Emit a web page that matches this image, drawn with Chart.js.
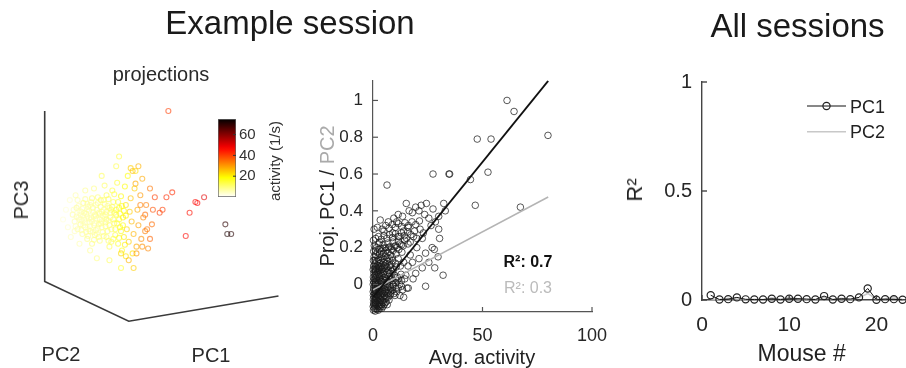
<!DOCTYPE html>
<html><head><meta charset="utf-8">
<script src="https://cdn.jsdelivr.net/npm/chart.js@4.4.1/dist/chart.umd.min.js"></script>
<style>
html,body{margin:0;padding:0;width:906px;height:368px;overflow:hidden;background:#fff;}
canvas{position:absolute;}
.t{position:absolute;white-space:nowrap;line-height:1;font-family:"Liberation Sans",Arial,Helvetica,sans-serif;color:#1a1a1a;transform:translate(-50%,-50%);}
.r{transform:translate(-50%,-50%) rotate(-90deg);}
.l{transform:translate(0,-50%);}
</style></head><body>
<canvas id="c3d" width="300" height="328" style="left:0;top:40px"></canvas>
<canvas id="cbar" width="95" height="110" style="left:205px;top:105px"></canvas>
<canvas id="cmid" width="330" height="308" style="left:300px;top:60px"></canvas>
<canvas id="call" width="300" height="308" style="left:620px;top:60px"></canvas>

<div class="t" style="left:290px;top:21.5px;font-size:33px">Example session</div>
<div class="t" style="left:797.5px;top:25px;font-size:33px">All sessions</div>
<div class="t" style="left:161px;top:74px;font-size:20px;color:#2a2a2a">projections</div>
<div class="t r" style="left:20.5px;top:200px;font-size:20px;color:#2a2a2a">PC3</div>
<div class="t" style="left:61px;top:354px;font-size:20px;color:#2a2a2a">PC2</div>
<div class="t" style="left:211px;top:355px;font-size:20px;color:#2a2a2a">PC1</div>
<div class="t r" style="left:274px;top:161px;font-size:15px;color:#333">activity (1/s)</div>
<div class="t r" style="left:327px;top:196px;font-size:20px;color:#222">Proj. PC1 / <span style="color:#aaa">PC2</span></div>
<div class="t" style="left:528px;top:261.5px;font-size:16px;color:#111;font-weight:bold">R²: 0.7</div>
<div class="t" style="left:528px;top:288px;font-size:16px;color:#bbb">R²: 0.3</div>
<div class="t" style="left:482px;top:357px;font-size:20px;color:#222">Avg. activity</div>
<div class="t" style="left:801.7px;top:353px;font-size:23px;color:#222">Mouse #</div>
<div class="t r" style="left:635px;top:190px;font-size:22px;color:#222">R²</div>
<div class="t l" style="left:850px;top:106.7px;font-size:18px;color:#222">PC1</div>
<div class="t l" style="left:850px;top:131.7px;font-size:18px;color:#222">PC2</div>

<script>
Chart.defaults.font.family = '"Liberation Sans", Arial, Helvetica, sans-serif';
Chart.defaults.color = '#262626';
Chart.defaults.animation = false;

// ===== Panel 1: 3D projections (screen-projected PC coordinates), [pc1, pc3, activity] =====
const proj3dCore = [
[0.20,0.03,7],[0.22,-0.04,6],[0.24,0.10,8],[0.25,-0.12,7],[0.26,0.00,6],[0.28,-0.07,9],[0.29,0.06,7],
[0.30,-0.17,8],[0.31,0.15,10],[0.32,-0.02,6],[0.33,-0.10,7],[0.34,0.04,8],[0.35,-0.22,9],[0.36,0.11,7],
[0.37,-0.05,6],[0.38,-0.14,8],[0.39,0.00,7],[0.40,0.20,11],[0.40,-0.27,10],[0.41,0.06,6],[0.42,-0.08,7],
[0.43,-0.18,9],[0.44,0.13,8],[0.45,-0.01,6],[0.46,-0.11,7],[0.47,0.05,8],[0.48,-0.24,10],[0.49,0.18,12],
[0.50,-0.04,7],[0.51,-0.15,9],[0.52,0.08,8],[0.53,0.01,7],[0.54,-0.09,10],[0.55,0.23,13],[0.55,-0.20,11],
[0.56,0.12,9],[0.57,-0.03,8],[0.58,-0.30,12],[0.59,0.05,10],[0.60,-0.12,11],[0.61,0.28,14],[0.62,0.16,12],
[0.63,-0.06,13],[0.64,-0.18,14],[0.65,0.03,15],[0.66,0.36,15],[0.67,-0.27,16],[0.68,0.10,17],[0.69,-0.10,18],
[0.70,0.22,19],[0.71,-0.34,17],[0.72,0.00,20],[0.73,-0.20,21],[0.74,0.32,19],[0.75,0.13,22],[0.76,-0.12,23],
[0.77,0.43,18],[0.78,-0.25,24],[0.79,0.06,24],[0.80,0.20,25],[0.81,-0.04,26],[0.82,-0.37,22],[0.83,-0.17,27],
[0.84,0.30,24],[0.85,0.48,22],[0.86,-0.30,28],[0.87,0.08,28],[0.88,-0.08,29],[0.90,0.23,30],[0.91,-0.22,31],
[0.92,0.40,28],[0.93,0.00,32],[0.95,-0.14,33],[0.96,0.13,33],[0.98,-0.32,32],[1.00,0.30,34],[1.02,-0.07,35],
[0.28,0.03,5],[0.35,0.08,6],[0.42,0.01,7],[0.36,-0.12,6],[0.45,-0.17,7],[0.50,0.06,8],[0.30,-0.04,5],
[0.38,0.13,7],[0.47,-0.07,8],[0.55,-0.02,9],[0.60,0.08,11],[0.25,0.18,6],[0.22,-0.14,5],[0.62,-0.22,13],[0.68,-0.02,16]
];
const proj3dCore2 = [
[0.21,0.08,5],[0.23,-0.09,5],[0.24,0.01,6],[0.26,0.12,6],[0.27,-0.02,5],[0.29,-0.13,7],[0.30,0.09,6],[0.31,-0.08,6],
[0.32,0.05,7],[0.33,0.19,8],[0.34,-0.15,7],[0.35,0.01,6],[0.36,-0.19,8],[0.37,0.07,7],[0.38,-0.09,7],[0.39,0.16,8],
[0.40,-0.04,6],[0.41,0.10,8],[0.42,-0.23,9],[0.43,0.03,7],[0.44,-0.13,8],[0.45,0.08,7],[0.46,0.21,10],[0.47,-0.20,9],
[0.48,-0.02,8],[0.49,0.11,9],[0.50,-0.10,8],[0.51,0.02,8],[0.52,-0.19,10],[0.53,0.14,10],[0.54,-0.05,9],[0.55,0.06,9],
[0.56,-0.14,10],[0.57,0.19,12],[0.58,-0.08,10],[0.59,0.00,10],[0.60,-0.25,12],[0.61,0.11,12],[0.62,-0.02,12],[0.63,0.24,14],
[0.64,-0.12,13],[0.65,0.08,14],[0.66,-0.06,14],[0.67,0.16,15],[0.68,-0.21,16],[0.69,0.04,16],[0.70,-0.14,17],[0.71,0.12,18],
[0.72,-0.08,18],[0.73,0.07,19],[0.74,-0.28,20],[0.75,0.02,20],[0.27,0.07,5],[0.33,-0.05,6],[0.39,-0.02,6],[0.44,0.02,7],
[0.49,-0.06,8],[0.35,0.14,7],[0.41,-0.15,7],[0.29,-0.02,5],[0.46,0.15,9],[0.52,0.18,10],[0.58,0.10,10],[0.57,-0.24,11],
[0.63,0.05,13],[0.31,0.02,6],[0.37,-0.01,6],[0.43,-0.06,7],[0.48,0.04,8],[0.54,0.03,9]
];
const proj3dHalo = [
[0.10,-0.02,3],[0.13,0.08,3],[0.15,-0.10,4],[0.17,0.18,4],[0.18,-0.20,5],[0.23,0.23,6],[0.27,-0.27,6],
[0.33,0.28,8],[0.38,-0.34,8],[0.45,-0.42,9],[0.53,0.33,11],[0.58,-0.44,12],[0.65,0.53,13],[0.70,-0.52,15],
[0.50,0.43,12],[0.42,0.30,9],[0.68,0.63,14],[0.75,-0.40,22],[0.83,-0.52,24],[0.88,0.53,27]
];
const proj3dOrange = [
[0.82,0.48,26],[0.80,0.51,24],[0.85,0.35,28],[0.90,0.13,33],[0.95,0.03,35],[0.97,-0.12,34],[1.00,-0.22,36],
[0.92,-0.30,31],[0.86,-0.37,30],[0.78,-0.44,27],[0.70,-0.37,23],[1.03,0.08,38]
];
const proj3dOutliers = [
[1.19,1.10,40],[1.05,0.21,40],[1.17,0.21,42],[1.23,0.26,42],[1.47,0.16,46],[1.56,0.21,50],[1.49,0.15,47],
[1.41,0.05,45],[1.37,-0.19,46],[1.13,0.08,40],[1.10,0.05,40],[1.78,-0.07,70],[1.80,-0.17,72],[1.84,-0.17,71]
];
const axes3dX = [-0.09, -0.09, 0.78, 2.33];
const axes3dY = [1.10, -0.66, -1.07, -0.81];
const cbarMin = 0, cbarMax = 75;
const cbarTicks = [20, 40, 60];

// ===== Panel 2: projection vs average activity, [avg activity, proj] =====
const midCore = [
[0.2,-0.14],[0.6,-0.13],[1.0,-0.145],[1.4,-0.12],[1.9,-0.135],[2.5,-0.12],[3.1,-0.13],[3.8,-0.11],[4.6,-0.12],[5.5,-0.1],
[0.3,-0.1],[0.8,-0.09],[1.3,-0.105],[1.8,-0.095],[2.3,-0.09],[2.9,-0.1],[3.5,-0.085],[4.2,-0.09],[5.0,-0.08],[5.9,-0.075],[6.8,-0.07],[7.8,-0.06],
[0.2,-0.06],[0.7,-0.05],[1.1,-0.065],[1.6,-0.055],[2.1,-0.06],[2.7,-0.05],[3.3,-0.06],[3.9,-0.045],[4.6,-0.05],[5.4,-0.04],[6.3,-0.045],[7.2,-0.03],[8.3,-0.035],[9.5,-0.05],[10.8,-0.04],[12.3,-0.06],[14,-0.07],
[0.3,-0.02],[0.9,-0.01],[1.4,-0.025],[2.0,-0.015],[2.6,-0.02],[3.2,-0.01],[3.9,-0.02],[4.7,-0.005],[5.6,-0.015],[6.6,0.0],[7.7,-0.01],[9.0,0.0],[10.5,-0.02],[12.2,0.0],[13.5,-0.03],[15.5,-0.02],
[0.2,0.02],[0.6,0.03],[1.2,0.015],[1.7,0.025],[2.3,0.02],[2.9,0.035],[3.6,0.02],[4.4,0.03],[5.3,0.04],[6.2,0.025],[7.3,0.045],[8.5,0.03],[9.8,0.05],[11.2,0.04],[12.8,0.055],[14.5,0.03],
[0.4,0.06],[1.0,0.07],[1.5,0.055],[2.1,0.065],[2.7,0.075],[3.4,0.06],[4.1,0.08],[5.0,0.07],[5.9,0.085],[7.0,0.075],[8.1,0.09],[9.3,0.08],[10.6,0.095],
[0.3,0.1],[0.8,0.11],[1.4,0.095],[2.0,0.105],[2.6,0.1],[3.3,0.115],[4.0,0.1],[4.8,0.12],[5.7,0.11],[6.7,0.125],[7.8,0.105],[9.0,0.13],[10.3,0.115],[11.5,0.14]
];
const midDense = [
[0.1,-0.12],[0.4,-0.11],[0.7,-0.115],[1.1,-0.1],[1.5,-0.13],[2.0,-0.11],[2.4,-0.14],[2.9,-0.115],[3.4,-0.12],[4.0,-0.13],[4.5,-0.1],[5.1,-0.11],[6.0,-0.095],[6.5,-0.11],[7.3,-0.085],
[0.2,-0.08],[0.6,-0.07],[1.0,-0.085],[1.4,-0.075],[1.9,-0.08],[2.5,-0.07],[3.0,-0.075],[3.7,-0.065],[4.4,-0.07],[5.2,-0.06],[6.1,-0.065],[7.0,-0.05],[8.0,-0.05],[9.0,-0.03],[10,-0.06],[11.5,-0.02],
[0.1,-0.04],[0.5,-0.03],[0.9,-0.045],[1.3,-0.035],[1.8,-0.04],[2.4,-0.03],[3.0,-0.04],[3.6,-0.025],[4.3,-0.035],[5.0,-0.025],[5.9,-0.03],[6.9,-0.015],[8.0,-0.02],[9.2,-0.01],[10.4,0.01],[11.7,0.03],[13,0.02],
[0.1,0.0],[0.5,0.01],[1.0,0.0],[1.5,0.005],[2.0,0.0],[2.6,0.01],[3.3,0.005],[4.0,0.015],[4.9,0.01],[5.8,0.02],[6.8,0.015],[7.9,0.03],[9.0,0.02],[10.2,0.035],
[0.2,0.04],[0.8,0.05],[1.4,0.04],[1.9,0.045],[2.5,0.055],[3.1,0.045],[3.8,0.05],[4.6,0.06],[5.5,0.055],[6.5,0.065],[7.6,0.06],[8.8,0.07],
[0.1,0.08],[0.6,0.085],[1.2,0.08],[1.8,0.085],[2.4,0.09],[3.0,0.085],[3.7,0.095],[4.5,0.09],[5.4,0.1],[6.3,0.095],[7.4,0.1],[8.6,0.11],
[0.2,0.13],[0.9,0.13],[1.7,0.125],[2.5,0.135],[3.4,0.13],[4.3,0.14],[5.3,0.135],[6.4,0.145],[7.5,0.14],[8.7,0.15],
[0.3,0.18],[1.1,0.185],[2.0,0.175],[2.9,0.19],[3.9,0.18],[4.9,0.195],[6.0,0.185],[7.1,0.2],[8.4,0.19],[9.7,0.205],[11,0.2],[12.3,0.22],[13.8,0.21],
[15.3,0.25],[17,0.23],[18.5,0.26],[20,0.25],[21.5,0.3],[23,0.28],[12,0.26],[14,0.29],[16,0.31],[9,0.28],[10.8,0.34],[7,0.34],[5,0.29],[3,0.23]
];
const midUpper = [
[0.5,0.15],[1.3,0.16],[2.2,0.145],[3.0,0.165],[3.9,0.15],[4.8,0.17],[5.8,0.155],[6.9,0.175],[8.0,0.16],[9.2,0.185],[10.5,0.165],[11.8,0.19],[13.2,0.175],
[0.6,0.21],[1.6,0.2],[2.6,0.22],[3.6,0.195],[4.6,0.215],[5.7,0.2],[6.8,0.225],[7.9,0.205],[9.1,0.23],[10.3,0.21],[11.6,0.235],[13.0,0.215],[14.5,0.24],[16.0,0.22],
[1.2,0.25],[2.5,0.26],[3.8,0.245],[5.0,0.265],[6.3,0.25],[7.6,0.27],[8.9,0.255],[10.2,0.275],[11.5,0.26],[12.9,0.28],[14.3,0.265],[15.8,0.285],[17.3,0.27],[19,0.29],
[2.0,0.31],[4.2,0.3],[5.8,0.32],[7.3,0.305],[8.8,0.325],[10.2,0.31],[11.6,0.33],[13.1,0.315],[14.6,0.335],[16.2,0.32],[17.8,0.34],[19.5,0.325],[21.2,0.345],
[3.3,0.35],[6.4,0.54],[9.5,0.36],[11.5,0.38],[13.5,0.37],[15.2,0.44],[16.5,0.4],[18,0.39],[19.5,0.42],[21,0.4],[22,0.43],[23.6,0.38],[24.4,0.44],[27.4,0.41],[32.3,0.44],[33,0.4],[25.5,0.36],[26.5,0.32],[28.5,0.34],[30,0.3],
[0.2,0.24],[0.5,0.3]
];
const midLower = [
[16,0.1],[18,0.12],[19.5,0.06],[21,0.14],[22.5,0.09],[24,0.17],[25.5,0.12],[27,0.2],[28,0.19],[29.7,0.15],[28.2,0.09],[32,0.05],
[24,-0.01],[18.3,0.03],[16.1,-0.02],[30.4,0.25],[20,0.2],[22.5,0.25],[17,0.16],[14,0.12],[12.5,0.1],[15,0.05],[13,-0.01],[11,0.02]
];
const midOutliers = [
[61.2,1.0],[64.4,0.94],[79.9,0.81],[47.6,0.79],[53.9,0.79],[52.5,0.61],[27.4,0.6],[34.7,0.6],[35,0.6],
[46.7,0.43],[67.3,0.42],[44.5,0.57],[30,0.37]
];
const fitX = [0, 80];
const fitPC1 = [-0.07, 1.106];
const fitPC2 = [-0.03, 0.475];
const midXTicks = [0, 50, 100];
const midYTicks = [0, 0.2, 0.4, 0.6, 0.8, 1];

// ===== Panel 3: all sessions =====
const mice = [1,2,3,4,5,6,7,8,9,10,11,12,13,14,15,16,17,18,19,20,21,22,23];
const r2PC1 = [0.022,0.002,0.004,0.012,0.003,0.002,0.002,0.006,0.002,0.006,0.006,0.004,0.002,0.018,0.002,0.006,0.004,0.012,0.053,0.001,0.004,0.004,0.001];
const r2PC2 = [0.005,0.002,0.008,0.005,0.002,0.003,0.002,0.010,0.004,0.012,0.006,0.004,0.003,0.012,0.003,0.008,0.004,0.010,0.030,0.004,0.006,0.015,0.003];
const allXTicks = [0, 10, 20];
const allYTicks = [0, 0.5, 1];

// ===== helpers =====
function hotR(v){
  const t = 1 - Math.min(Math.max((v - cbarMin)/(cbarMax - cbarMin), 0), 1);
  const r = Math.min(1, t/0.375), g = Math.min(1, Math.max(0, (t-0.375)/0.375)), b = Math.max(0, (t-0.75)/0.25);
  return [Math.round(r*255), Math.round(g*255), Math.round(b*255)];
}
function rgba(c,a){return `rgba(${c[0]},${c[1]},${c[2]},${a})`;}
const setTicks = vals => (s => { s.ticks = vals.map(v => ({value: v})); });
const plainLabel = v => String(v);

const inTicks = {
  id: 'inTicks',
  afterDatasetsDraw(chart, args, o){
    if(!o || !o.axes) return;
    const ctx = chart.ctx;
    ctx.save(); ctx.strokeStyle = o.color; ctx.lineWidth = o.width || 1;
    for(const id of o.axes){
      const s = chart.scales[id];
      s.ticks.forEach(t => {
        const p = s.getPixelForValue(t.value);
        ctx.beginPath();
        if(s.position === 'bottom'){ ctx.moveTo(p, s.top); ctx.lineTo(p, s.top - o.len); }
        else if(s.position === 'left'){ ctx.moveTo(s.right, p); ctx.lineTo(s.right + o.len, p); }
        else { ctx.moveTo(s.left, p); ctx.lineTo(s.left - o.len, p); }
        ctx.stroke();
      });
    }
    ctx.restore();
  }
};

// ===== Chart 1: 3D projection scatter =====
const allProj = [...proj3dCore, ...proj3dCore2, ...proj3dHalo, ...proj3dOrange, ...proj3dOutliers];
new Chart(document.getElementById('c3d'), {
  type: 'scatter',
  data: { datasets: [
    { data: axes3dX.map((x,i)=>({x, y: axes3dY[i]})), showLine: true, borderColor: '#3a3a3a', borderWidth: 1.6, pointRadius: 0, clip: false },
    { data: allProj.map(p=>({x:p[0], y:p[1]})), pointRadius: 2.5, pointBorderWidth: 1.1,
      pointBorderColor: allProj.map(p=>rgba(hotR(p[2]), 0.6)), pointBackgroundColor: 'rgba(0,0,0,0)', clip: false }
  ]},
  options: {
    responsive: false, events: [],
    layout: { padding: 0 },
    plugins: { legend: {display:false}, tooltip: {enabled:false} },
    scales: {
      x: { type:'linear', min: -0.5, max: 2.5, display: false },
      y: { type:'linear', min: -1.5, max: 1.78, display: false }
    }
  }
});

// ===== Colorbar =====
new Chart(document.getElementById('cbar'), {
  type: 'bar',
  data: { labels: [''], datasets: [{
    data: [[cbarMin, cbarMax]], barPercentage: 1, categoryPercentage: 1,
    borderWidth: 1, borderColor: '#666', borderSkipped: false,
    backgroundColor: (c) => {
      const ca = c.chart.chartArea; if(!ca) return '#fff';
      const g = c.chart.ctx.createLinearGradient(0, ca.bottom, 0, ca.top);
      for(let i=0;i<=20;i++){ g.addColorStop(i/20, rgba(hotR(cbarMin + (cbarMax-cbarMin)*i/20), 1)); }
      return g;
    }
  }]},
  options: {
    responsive: false, events: [],
    layout: { padding: { left: 13, top: 14, bottom: 18, right: 0 } },
    plugins: { legend:{display:false}, tooltip:{enabled:false},
      inTicks: { axes: ['y'], len: 3, color: '#333', width: 1 } },
    scales: {
      x: { display: false },
      y: { position: 'right', min: cbarMin, max: cbarMax,
        afterBuildTicks: setTicks(cbarTicks),
        afterFit: s => { s.width = 64; },
        grid: { display:false, drawTicks:false }, border: { display:false },
        ticks: { padding: 3, font: { size: 15 }, color: '#333', callback: plainLabel } }
    }
  },
  plugins: [inTicks]
});

// ===== Chart 2: projection vs activity =====
const midAll = [...midCore, ...midDense, ...midUpper, ...midLower, ...midOutliers];
new Chart(document.getElementById('cmid'), {
  type: 'scatter',
  data: { datasets: [
    { data: fitX.map((x,i)=>({x, y: fitPC1[i]})), showLine: true, borderColor: '#111', borderWidth: 1.8, pointRadius: 0 },
    { data: fitX.map((x,i)=>({x, y: fitPC2[i]})), showLine: true, borderColor: '#b4b4b4', borderWidth: 1.5, pointRadius: 0 },
    { data: midAll.map(p=>({x:p[0], y:p[1]})), pointRadius: 3.3, pointBorderWidth: 1,
      pointBorderColor: 'rgba(25,25,25,0.72)', pointBackgroundColor: 'rgba(0,0,0,0)', clip: false }
  ]},
  options: {
    responsive: false, events: [],
    layout: { padding: { top: 20, right: 38, left: 0, bottom: 0 } },
    plugins: { legend:{display:false}, tooltip:{enabled:false},
      inTicks: { axes: ['x','y'], len: 5, color: '#555', width: 1.2 } },
    scales: {
      x: { type:'linear', min: 0, max: 100, afterBuildTicks: setTicks(midXTicks),
        afterFit: s => { s.height = 56; },
        grid: { display:false, drawTicks:false }, border: { display:true, color:'#555', width:1.2 },
        ticks: { padding: 13, font: { size: 18 }, maxRotation: 0, callback: plainLabel } },
      y: { type:'linear', min: -0.15, max: 1.11, afterBuildTicks: setTicks(midYTicks),
        afterFit: s => { s.width = 73; },
        grid: { display:false, drawTicks:false }, border: { display:true, color:'#555', width:1.2 },
        ticks: { padding: 10, font: { size: 17 }, callback: plainLabel } }
    }
  },
  plugins: [inTicks]
});

// ===== Chart 3: all sessions =====
const legendLines = {
  id: 'legendLines',
  afterDraw(chart, args, o){
    const ctx = chart.ctx; ctx.save();
    o.items.forEach(it => {
      ctx.strokeStyle = it.color; ctx.lineWidth = it.width;
      ctx.beginPath(); ctx.moveTo(o.x0, it.y); ctx.lineTo(o.x1, it.y); ctx.stroke();
      if(it.r){ ctx.lineWidth = 1.2; ctx.strokeStyle = '#222'; ctx.beginPath(); ctx.arc((o.x0+o.x1)/2, it.y, it.r, 0, Math.PI*2); ctx.stroke(); }
    });
    ctx.restore();
  }
};
new Chart(document.getElementById('call'), {
  type: 'line',
  data: { datasets: [
    { label: 'PC1', data: mice.map((m,i)=>({x:m, y:r2PC1[i]})), borderColor: '#111', borderWidth: 1,
      pointRadius: 3.6, pointBorderWidth: 1.2, pointBorderColor: '#222', pointBackgroundColor: 'rgba(0,0,0,0)', clip: false },
    { label: 'PC2', data: mice.map((m,i)=>({x:m, y:r2PC2[i]})), borderColor: '#c8c8c8', borderWidth: 1.5,
      pointRadius: 0, clip: false }
  ]},
  options: {
    responsive: false, events: [],
    layout: { padding: { top: 21, right: 3, left: 0, bottom: 0 } },
    plugins: { legend:{display:false}, tooltip:{enabled:false},
      inTicks: { axes: ['x','y'], len: 5, color: '#444', width: 1.4 },
      legendLines: { x0: 187, x1: 226, items: [ {y: 46, color:'#111', width:1, r:3.6}, {y: 71.7, color:'#c8c8c8', width:1.5} ] } },
    scales: {
      x: { type:'linear', min: 0, max: 24.4, afterBuildTicks: setTicks(allXTicks),
        afterFit: s => { s.height = 68; },
        grid: { display:false, drawTicks:false }, border: { display:true, color:'#444', width:1.4 },
        ticks: { padding: 13, font: { size: 21 }, maxRotation: 0, callback: plainLabel } },
      y: { type:'linear', min: 0, max: 1, afterBuildTicks: setTicks(allYTicks),
        afterFit: s => { s.width = 82; },
        grid: { display:false, drawTicks:false }, border: { display:true, color:'#444', width:1.4 },
        ticks: { padding: 10, font: { size: 20 }, callback: plainLabel } }
    }
  },
  plugins: [inTicks, legendLines]
});
</script>
</body></html>
